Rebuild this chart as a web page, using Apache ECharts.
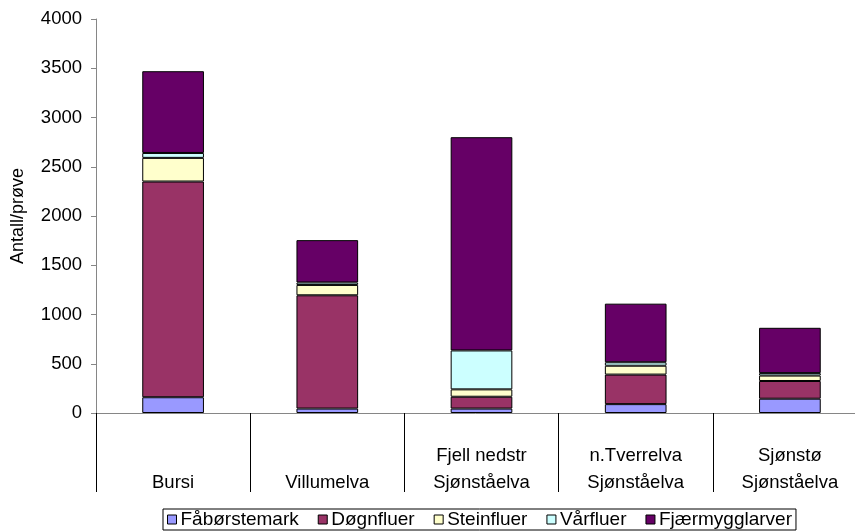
<!DOCTYPE html>
<html>
<head>
<meta charset="utf-8">
<script src="https://cdn.jsdelivr.net/npm/echarts@6/dist/echarts.min.js"></script>
<style>
  html, body { margin: 0; padding: 0; background: #fff; }
  #chart { width: 855px; height: 531px; }
</style>
</head>
<body>
<div id="chart"></div>
<script>
// Stations (upper / lower label line)
const categories = [
  '\nBursi',
  '\nVillumelva',
  'Fjell nedstr\nSjønståelva',
  'n.Tverrelva\nSjønståelva',
  'Sjønstø\nSjønståelva'
];

// Mean counts per sample for each taxon group
const faborstemark    = [160, 45, 45, 90, 145];
const dognfluer       = [2190, 1150, 120, 300, 180];
const steinfluer      = [240, 105, 75, 90, 55];
const varfluer        = [50, 25, 395, 35, 25];
const fjaermygglarver = [830, 430, 2165, 595, 460];

const yTicks = { min: 0, max: 4000, step: 500 };

const seriesDefs = [
  { name: 'Fåbørstemark', data: faborstemark, color: '#9999FF' },
  { name: 'Døgnfluer', data: dognfluer, color: '#993366' },
  { name: 'Steinfluer', data: steinfluer, color: '#FFFFCC' },
  { name: 'Vårfluer', data: varfluer, color: '#CCFFFF' },
  { name: 'Fjærmygglarver', data: fjaermygglarver, color: '#660066' }
];

const font = 'Liberation Sans, Arial, sans-serif';
const chart = echarts.init(document.getElementById('chart'), null, { renderer: 'canvas' });

chart.setOption({
  animation: false,
  backgroundColor: '#ffffff',
  textStyle: { fontFamily: font, color: '#000' },
  grid: {
    left: 96, right: -12, top: 19, bottom: 118,
    containLabel: false,
    outerBoundsMode: 'none'
  },
  legend: {
    left: 163,
    bottom: 1,
    padding: [1, 4],
    borderColor: '#000',
    borderWidth: 1,
    itemWidth: 9,
    itemHeight: 9,
    itemGap: 19,
    icon: 'rect',
    textStyle: { fontFamily: font, fontSize: 19, color: '#000', padding: [0, 0, 0, -1] },
    data: seriesDefs.map(s => ({ name: s.name, itemStyle: { borderColor: '#000', borderWidth: 1 } }))
  },
  xAxis: {
    type: 'category',
    data: categories,
    axisLine: { lineStyle: { color: '#868686', width: 1 } },
    axisTick: { show: true, alignWithLabel: false, interval: 0, length: 79, lineStyle: { color: '#000', width: 1 } },
    axisLabel: {
      interval: 0,
      margin: 29,
      fontFamily: font,
      fontSize: 18.5,
      lineHeight: 27,
      color: '#000',
      align: 'center'
    }
  },
  yAxis: {
    type: 'value',
    min: yTicks.min,
    max: yTicks.max,
    interval: yTicks.step,
    name: 'Antall/prøve',
    nameLocation: 'middle',
    nameGap: 69,
    nameRotate: 90,
    nameTextStyle: { fontFamily: font, fontSize: 18, color: '#000' },
    axisLine: { show: true, lineStyle: { color: '#868686', width: 1 } },
    axisTick: { show: true, length: 5, lineStyle: { color: '#868686' } },
    axisLabel: {
      fontFamily: font, fontSize: 18.5, color: '#000', margin: 14,
      formatter: v => String(v)
    },
    splitLine: { show: false }
  },
  series: seriesDefs.map(s => ({
    name: s.name,
    type: 'bar',
    stack: 'total',
    data: s.data,
    barWidth: '40%',
    itemStyle: { color: s.color, borderColor: '#000', borderWidth: 1 }
  }))
});
</script>
</body>
</html>
